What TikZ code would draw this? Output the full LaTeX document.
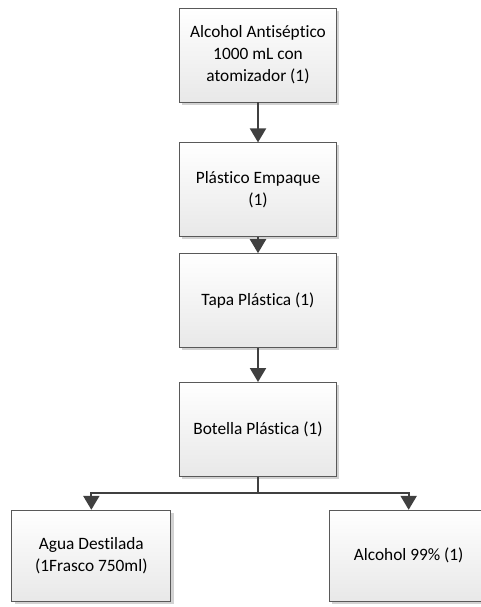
\documentclass[tikz,border=0pt]{standalone}
\usepackage{fontspec}
\setmainfont{Carlito}[Ligatures=NoCommon]
\usetikzlibrary{positioning,arrows.meta,shadows}

\begin{document}
\begin{tikzpicture}[
    x=0.75pt, y=-0.75pt,
    node distance=30pt,
    box/.style={rectangle, draw=black!65, line width=0.6pt, top color=white, bottom color=black!9,
        drop shadow={shadow xshift=2pt, shadow yshift=-2pt, fill=black!35, opacity=0.5},
        minimum width=117.75pt, minimum height=70.5pt, align=center, inner sep=2pt,
        font=\fontsize{13}{16.5}\selectfont},
    hoja/.style={box, minimum width=119.25pt, minimum height=68.25pt},
    flecha/.style={-{Triangle[width=12pt,length=10.5pt]}, line width=1.6pt, draw=black!75}
]
    \clip (0,0) rectangle (481,607);
    % Nodes
    \node[box] (alcohol) at (258,55) {Alcohol Antiséptico\\1000 mL con\\atomizador (1)};
    \node[box, below=30pt of alcohol] (empaque) {Plástico Empaque\\(1)};
    \node[box, below=12pt of empaque] (tapa) {Tapa Plástica (1)};
    \node[box, below=25.5pt of tapa] (botella) {Botella Plástica (1)};
    \node[hoja, below=24.75pt of botella, xshift=-125pt] (agua) {Agua Destilada\\(1Frasco 750ml)};
    \node[hoja, below=24.75pt of botella, xshift=113pt] (alcohol99) {Alcohol 99\% (1)};
    \coordinate (rama) at ([yshift=-12pt]botella.south);

    % Arrows
    \draw[flecha] (alcohol) -- (empaque);
    \draw[flecha] (empaque) -- (tapa);
    \draw[flecha] (tapa) -- (botella);
    \draw[line width=1.6pt, draw=black!75] (botella) -- (rama);
    \draw[flecha] (rama) -| (agua);
    \draw[flecha] (rama) -| (alcohol99);
\end{tikzpicture}
\end{document}
